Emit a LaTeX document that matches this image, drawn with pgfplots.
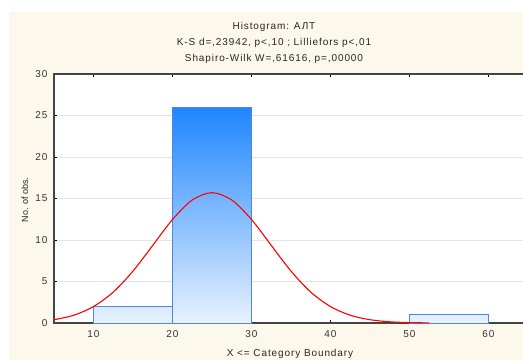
\documentclass[border=0pt]{standalone}
\usepackage{fontspec}
\setmainfont{Liberation Sans}[LetterSpace=9]
\newfontfamily\plainfont{Liberation Sans}
\usepackage{pgfplots}
\pgfplotsset{compat=1.18}
\definecolor{cream}{HTML}{FDF8EC}
\definecolor{axgray}{HTML}{454545}
\definecolor{bartop}{HTML}{1E86FE}
\definecolor{barbot}{HTML}{E8F2FE}
\definecolor{baredge}{HTML}{4F86E6}
\begin{document}
\begin{tikzpicture}[x=1pt,y=1pt]
\fill[white] (0,0) rectangle (523,360);
\fill[cream] (9,0) rectangle (523,348);
\begin{axis}[
  at={(54pt,37pt)}, anchor=south west,
  scale only axis, width=474pt, height=249pt,
  xmin=5, xmax=65, ymin=0, ymax=30,
  axis background/.style={fill=white},
  xtick={10,20,30,40,50,60},
  ytick={0,5,10,15,20,25,30},
  ymajorgrids, grid style={draw=black!10, line width=0.8pt},
  tick align=inside, major tick length=3pt,
  axis line style={draw=axgray, line width=1.3pt},
  tick style={draw=black, line width=0.8pt},
  ticklabel style={font=\fontsize{10}{12}\selectfont, text=black!80},
  /pgf/number format/assume math mode=true,
  xticklabel shift=4pt, yticklabel shift=3pt,
]
\addplot[draw=baredge, line width=0.8pt, top color=bartop!8!barbot, bottom color=barbot] coordinates {(10,0) (10,2) (20,2) (20,0)} -- cycle;
\addplot[draw=baredge, line width=0.8pt, top color=bartop, bottom color=barbot] coordinates {(20,0) (20,26) (30,26) (30,0)} -- cycle;
\addplot[draw=baredge, line width=0.8pt, top color=bartop!4!barbot, bottom color=barbot] coordinates {(50,0) (50,1) (60,1) (60,0)} -- cycle;
\addplot[red, line width=1.1pt, smooth] coordinates {
(5,0.395) (7.5,0.936) (10,1.978) (12.5,3.724) (15,6.252) (17.5,9.353) (20,12.47) (22.5,14.82) (25,15.70) (27.5,14.82) (30,12.47) (32.5,9.353) (35,6.252) (37.5,3.724) (40,1.978) (42.5,0.936) (45,0.395) (47.5,0.148) (50,0.050) (52.5,0.015)};
\end{axis}
\node[font=\fontsize{10}{12}\selectfont, text=black!85] at (274,333) {Histogram: АЛТ};
\node[font=\fontsize{10}{12}\selectfont, text=black!85] at (274,317) {K-S d=,23942, p<,10 ; Lilliefors p<,01};
\node[font=\fontsize{10}{12}\selectfont, text=black!85] at (274,301) {Shapiro-Wilk W=,61616, p=,00000};
\node[font=\plainfont\fontsize{9}{11}\selectfont, text=black!85, rotate=90] at (25,160) {No. of obs.};
\node[font=\fontsize{10}{12}\selectfont, text=black!85] at (290,6) {X <= Category Boundary};
\pgfresetboundingbox
\useasboundingbox (0,0) rectangle (523,360);
\end{tikzpicture}
\end{document}
